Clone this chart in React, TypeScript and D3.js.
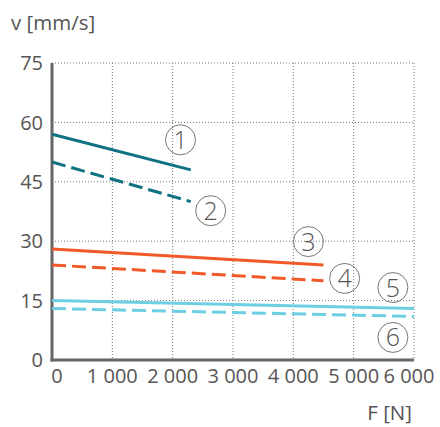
import React from "react";
import * as d3 from "d3";

const xTicks = [0, 1000, 2000, 3000, 4000, 5000, 6000];
const yTicks = [0, 15, 30, 45, 60, 75];

// series: [F, v] endpoints
const s1 = [[0, 57], [2300, 48]];
const s2 = [[0, 50], [2300, 40]];
const s3 = [[0, 28], [4500, 24]];
const s4 = [[0, 24], [4500, 20]];
const s5 = [[0, 15], [6000, 13]];
const s6 = [[0, 13], [6000, 11]];

const seriesList = [
  { id: "1", data: s1, color: "#0f7282", dashed: false, label: [2130, 55.6] },
  { id: "2", data: s2, color: "#0f7282", dashed: true, label: [2630, 37.7] },
  { id: "3", data: s3, color: "#f05a28", dashed: false, label: [4250, 29.9] },
  { id: "4", data: s4, color: "#f05a28", dashed: true, label: [4850, 20.6] },
  { id: "5", data: s5, color: "#6ccfe4", dashed: false, label: [5650, 18.3] },
  { id: "6", data: s6, color: "#6ccfe4", dashed: true, label: [5650, 5.7] },
];

const W = 440, H = 427;
const x = d3.scaleLinear().domain([0, 6000]).range([52, 414]);
const y = d3.scaleLinear().domain([0, 75]).range([360, 63]);
const fmt = (v: number) => (v >= 1000 ? d3.format(",")(v).replace(/,/g, " ") : String(v));
const font = "'Open Sans', 'Noto Sans', sans-serif";
const textColor = "#555";

export default function App() {
  const line = d3.line<number[]>().x((d) => x(d[0])).y((d) => y(d[1]));
  return (
    <svg width={W} height={H} style={{ position: "absolute", left: 0, top: 0 }} fontFamily={font}>
      {/* grid */}
      {xTicks.filter((t) => t > 0).map((t) => (
        <line key={"gx" + t} x1={x(t)} x2={x(t)} y1={y(75)} y2={y(0)} stroke="#777" strokeWidth={1} strokeDasharray="1,2" />
      ))}
      {yTicks.filter((t) => t > 0).map((t) => (
        <line key={"gy" + t} x1={x(0)} x2={x(6000)} y1={y(t)} y2={y(t)} stroke="#777" strokeWidth={1} strokeDasharray="1,2" />
      ))}
      {/* axes */}
      <line x1={x(0)} x2={x(0)} y1={y(75)} y2={y(0) + 1.5} stroke="#666" strokeWidth={3} />
      <line x1={x(0) - 1.5} x2={x(6000)} y1={y(0)} y2={y(0)} stroke="#666" strokeWidth={3} />
      {/* y labels */}
      {yTicks.map((t) => (
        <text key={"yl" + t} x={43} y={y(t)} dy="0.36em" textAnchor="end" fontSize={20} fill={textColor}>{t}</text>
      ))}
      {/* x labels */}
      {xTicks.map((t) => {
        const cx = Math.max(57, Math.min(409, x(t)));
        return (
          <text key={"xl" + t} x={cx} y={382.5} textAnchor="middle" fontSize={20} fill={textColor}>{fmt(t)}</text>
        );
      })}
      <text x={11} y={30} fontSize={20.5} fill={textColor}>v [mm/s]</text>
      <text x={412} y={420} textAnchor="end" fontSize={20.5} fill={textColor}>F [N]</text>
      {/* series */}
      {seriesList.map((s) => (
        <path key={"s" + s.id} d={line(s.data) || ""} fill="none" stroke={s.color} strokeWidth={3}
          strokeDasharray={s.dashed ? "14,6" : undefined} />
      ))}
      {/* circled labels */}
      {seriesList.map((s) => (
        <g key={"c" + s.id} transform={`translate(${x(s.label[0])},${y(s.label[1])})`}>
          <circle r={15} fill="none" stroke="#777" strokeWidth={1} />
          <text dy="0.36em" textAnchor="middle" fontSize={25} fontWeight={300} fill={textColor}>{s.id}</text>
        </g>
      ))}
    </svg>
  );
}
